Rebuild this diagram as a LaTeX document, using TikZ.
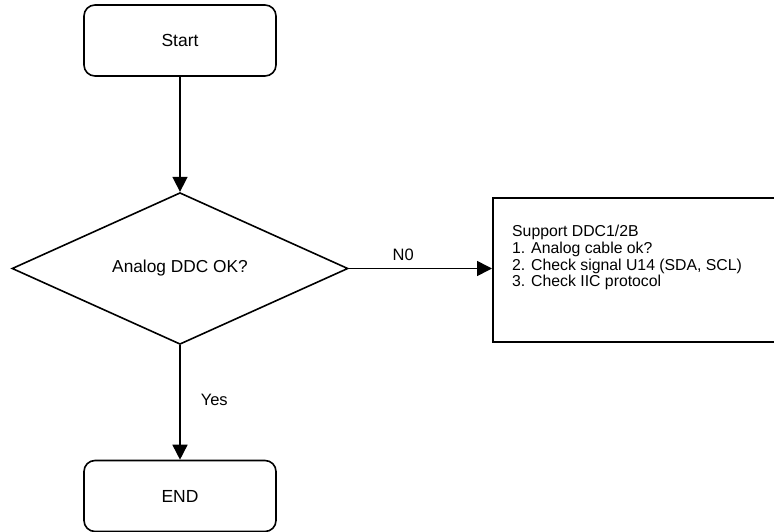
\documentclass[tikz,border=0pt]{standalone}
\usepackage{fontspec}
\setmainfont{Liberation Sans}
\usetikzlibrary{shapes.geometric,arrows.meta}
\begin{document}
\begin{tikzpicture}[x=1pt,y=-1pt,
  term/.style={draw,line width=1.6pt,rounded corners=11pt,minimum width=192pt,minimum height=71pt,inner sep=0pt,font=\fontsize{17.5}{20}\selectfont},
  decision/.style={draw,shape=diamond,line width=1.6pt,minimum width=336pt,minimum height=143pt,inner sep=0pt,font=\fontsize{17.3}{20}\selectfont},
  procbox/.style={draw,line width=1.6pt,minimum width=290pt,minimum height=144pt,inner sep=0pt},
  boxtext/.style={anchor=north west,align=left,inner sep=0pt,font=\fontsize{15.8}{16.7}\selectfont},
  lbl/.style={font=\fontsize{16.5}{20}\selectfont,inner sep=0pt},
  arr/.style={line width=1.6pt,-{Triangle[length=15pt,width=15pt]}}]
\useasboundingbox (0,0) rectangle (774,532);
\clip (0,0) rectangle (774,532);
\node[term] (start) at (180,40.5) {Start};
\node[decision] (dec) at (180,268.5) {Analog DDC OK?};
\node[procbox,anchor=north west] (box) at (492,197) {};
\node[boxtext] (boxt) at ([xshift=20pt,yshift=-28pt]box.north west) {Support DDC1/2B\\1. Analog cable ok?\\2. Check signal U14 (SDA, SCL)\\3. Check IIC protocol};
\node[term] (end) at (180,496) {END};
\draw[arr] (start) -- (dec);
\draw[arr] (dec.east) -- (box.west |- dec.east) node[lbl,pos=0.38,above=7pt] (no) {N0};
\draw[arr] (dec) -- (end) node[lbl,pos=0.48,right=20pt] (yes) {Yes};
\end{tikzpicture}
\end{document}
